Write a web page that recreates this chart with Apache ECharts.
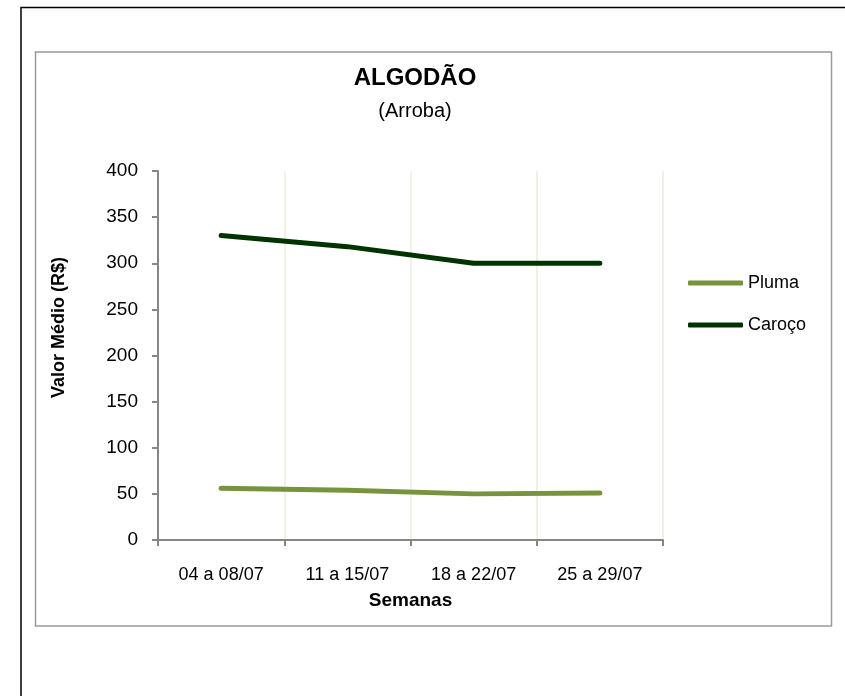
<!DOCTYPE html>
<html>
<head>
<meta charset="utf-8">
<script src="https://cdn.jsdelivr.net/npm/echarts@6/dist/echarts.min.js"></script>
<style>
html,body{margin:0;padding:0;background:#fff;}
#c{width:845px;height:696px;}
</style>
</head>
<body>
<div id="c"></div>
<script>
const categories = ['04 a 08/07', '11 a 15/07', '18 a 22/07', '25 a 29/07'];
const pluma = [56, 54, 50, 51];
const caroco = [330, 318, 300, 300];
const yTicks = { min: 0, max: 400, interval: 50 };

const chart = echarts.init(document.getElementById('c'));
const font = "'Liberation Sans', Arial, sans-serif";
chart.setOption({
  backgroundColor: '#fff',
  animation: false,
  title: {
    text: 'ALGODÃO',
    subtext: '(Arroba)',
    left: 410,
    top: 61,
    textAlign: 'center',
    itemGap: 11,
    textStyle: { fontFamily: font, fontSize: 24, fontWeight: 'bold', color: '#000' },
    subtextStyle: { fontFamily: font, fontSize: 20, color: '#000' }
  },
  graphic: [
    { type: 'polyline', shape: { points: [[21, 696], [21, 7.5], [845, 7.5]] }, style: { stroke: '#000', lineWidth: 1.5, fill: null }, silent: true },
    { type: 'rect', shape: { x: 35.5, y: 52, width: 796, height: 574 }, style: { stroke: '#9a9a9a', lineWidth: 1.5, fill: null }, silent: true }
  ],
  legend: {
    orient: 'vertical',
    left: 683,
    top: 269,
    itemWidth: 55,
    itemHeight: 5,
    itemGap: 24,
    icon: 'roundRect',
    textStyle: { fontFamily: font, fontSize: 18, color: '#000' },
    data: ['Pluma', 'Caroço']
  },
  grid: { left: 158, right: 182, top: 171, bottom: 156, containLabel: false },
  xAxis: {
    type: 'category',
    data: categories,
    boundaryGap: true,
    name: 'Semanas',
    nameLocation: 'middle',
    nameGap: 51,
    nameTextStyle: { fontFamily: font, fontSize: 19, fontWeight: 'bold', color: '#000' },
    axisLine: { lineStyle: { color: '#868686', width: 2 } },
    axisTick: { show: true, alignWithLabel: false, length: 6, lineStyle: { color: '#868686', width: 2 } },
    axisLabel: { fontFamily: font, fontSize: 18, color: '#000', margin: 26 },
    splitLine: { show: true, lineStyle: { color: '#ecedde', width: 1.5 } }
  },
  yAxis: {
    type: 'value',
    min: yTicks.min,
    max: yTicks.max,
    interval: yTicks.interval,
    name: 'Valor Médio (R$)',
    nameLocation: 'middle',
    nameGap: 90,
    nameRotate: 90,
    nameTextStyle: { fontFamily: font, fontSize: 18, fontWeight: 'bold', color: '#000', padding: [0, 0, 0, 56] },
    axisLine: { show: true, lineStyle: { color: '#868686', width: 2 } },
    axisTick: { show: true, length: 6, lineStyle: { color: '#868686', width: 2 } },
    axisLabel: { fontFamily: font, fontSize: 19, color: '#000', margin: 20 },
    splitLine: { show: false }
  },
  series: [
    {
      name: 'Pluma', type: 'line', data: pluma,
      symbol: 'none', smooth: false,
      lineStyle: { color: '#77933c', width: 5, cap: 'round', join: 'round' },
      itemStyle: { color: '#77933c' }
    },
    {
      name: 'Caroço', type: 'line', data: caroco,
      symbol: 'none', smooth: false,
      lineStyle: { color: '#003300', width: 5, cap: 'round', join: 'round' },
      itemStyle: { color: '#003300' }
    }
  ]
});
</script>
</body>
</html>
